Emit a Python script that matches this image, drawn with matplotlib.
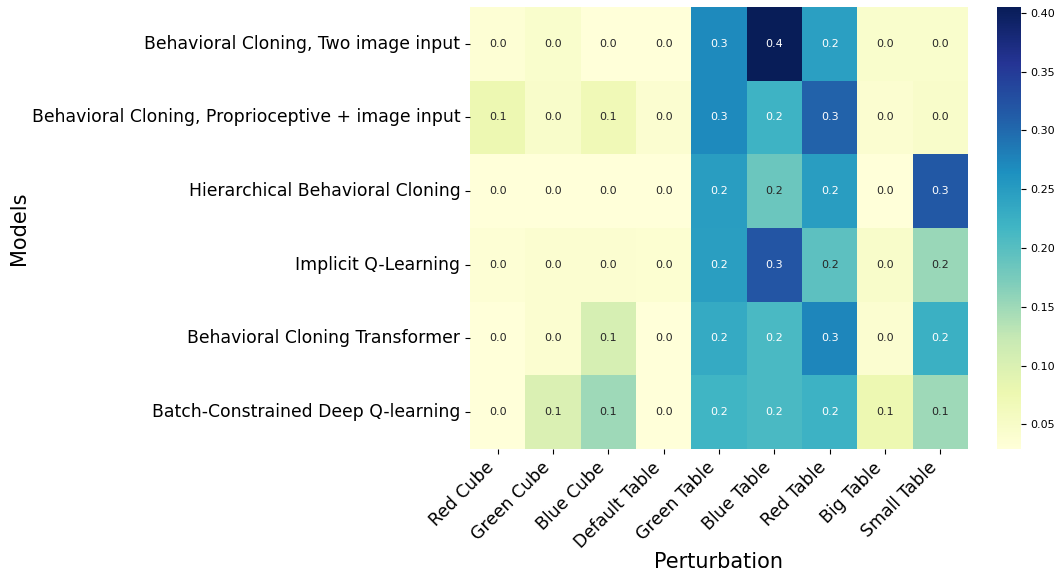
import numpy as np
import pandas as pd
import matplotlib
matplotlib.use("Agg")
import matplotlib.pyplot as plt
import seaborn as sns

models = [
    "Behavioral Cloning, Two image input",
    "Behavioral Cloning, Proprioceptive + image input",
    "Hierarchical Behavioral Cloning",
    "Implicit Q-Learning",
    "Behavioral Cloning Transformer",
    "Batch-Constrained Deep Q-learning",
]
perturbations = ["Red Cube", "Green Cube", "Blue Cube", "Default Table",
                 "Green Table", "Blue Table", "Red Table", "Big Table", "Small Table"]

# success-rate drop per model (rows) and perturbation (columns)
bc_two_image = [0.035, 0.045, 0.030, 0.030, 0.270, 0.405, 0.245, 0.045, 0.045]
bc_proprio = [0.075, 0.048, 0.070, 0.040, 0.270, 0.220, 0.307, 0.040, 0.048]
hbc = [0.029, 0.030, 0.030, 0.030, 0.248, 0.186, 0.248, 0.030, 0.318]
iql = [0.035, 0.040, 0.040, 0.038, 0.247, 0.320, 0.195, 0.048, 0.153]
bct = [0.030, 0.040, 0.105, 0.030, 0.232, 0.210, 0.273, 0.040, 0.225]
bcq = [0.030, 0.100, 0.150, 0.030, 0.218, 0.210, 0.222, 0.075, 0.150]

df = pd.DataFrame([bc_two_image, bc_proprio, hbc, iql, bct, bcq],
                  index=models, columns=perturbations)

fig = plt.figure(figsize=(10.55, 5.73), dpi=100)
ax = fig.add_axes([470 / 1055, 1 - 449 / 573, 498 / 1055, 442 / 573])
cax = fig.add_axes([997 / 1055, 1 - 449 / 573, 24 / 1055, 442 / 573])

sns.heatmap(df, ax=ax, cbar_ax=cax, cmap="YlGnBu", annot=True, fmt=".1f",
            annot_kws={"fontsize": 8})

ax.set_xlabel("Perturbation", fontsize=15, labelpad=0)
ax.set_ylabel("Models", fontsize=15, labelpad=2)
ax.set_xticklabels(perturbations, rotation=45, ha="right", fontsize=12.4)
ax.set_yticklabels(models, rotation=0, fontsize=12.4)
cax.tick_params(labelsize=8)
cax.set_frame_on(False)

fig.savefig("out.png", dpi=100)
